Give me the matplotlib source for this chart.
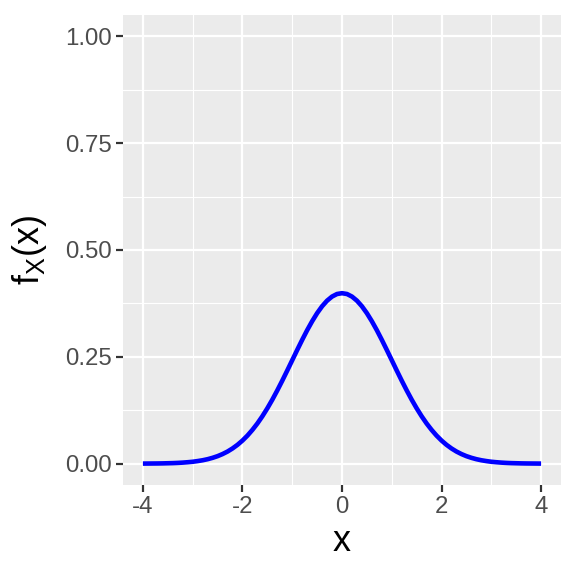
import matplotlib
matplotlib.use("Agg")
import matplotlib.pyplot as plt

plt.rcParams['font.family'] = ['Liberation Sans', 'DejaVu Sans']

# density values, x from -4 to 4
x_vals = [-4.0, -3.9, -3.8, -3.7, -3.6, -3.5, -3.4, -3.3, -3.2, -3.1,
          -3.0, -2.9, -2.8, -2.7, -2.6, -2.5, -2.4, -2.3, -2.2, -2.1,
          -2.0, -1.9, -1.8, -1.7, -1.6, -1.5, -1.4, -1.3, -1.2, -1.1,
          -1.0, -0.9, -0.8, -0.7, -0.6, -0.5, -0.4, -0.3, -0.2, -0.1,
          0.0, 0.1, 0.2, 0.3, 0.4, 0.5, 0.6, 0.7, 0.8, 0.9,
          1.0, 1.1, 1.2, 1.3, 1.4, 1.5, 1.6, 1.7, 1.8, 1.9,
          2.0, 2.1, 2.2, 2.3, 2.4, 2.5, 2.6, 2.7, 2.8, 2.9,
          3.0, 3.1, 3.2, 3.3, 3.4, 3.5, 3.6, 3.7, 3.8, 3.9, 4.0]
fx_vals = [0.0001, 0.0002, 0.0003, 0.0004, 0.0006, 0.0009, 0.0012, 0.0017, 0.0024, 0.0033,
           0.0044, 0.0060, 0.0079, 0.0104, 0.0136, 0.0175, 0.0224, 0.0283, 0.0355, 0.0440,
           0.0540, 0.0656, 0.0790, 0.0940, 0.1109, 0.1295, 0.1497, 0.1714, 0.1942, 0.2179,
           0.2420, 0.2661, 0.2897, 0.3123, 0.3332, 0.3521, 0.3683, 0.3814, 0.3910, 0.3970,
           0.3989, 0.3970, 0.3910, 0.3814, 0.3683, 0.3521, 0.3332, 0.3123, 0.2897, 0.2661,
           0.2420, 0.2179, 0.1942, 0.1714, 0.1497, 0.1295, 0.1109, 0.0940, 0.0790, 0.0656,
           0.0540, 0.0440, 0.0355, 0.0283, 0.0224, 0.0175, 0.0136, 0.0104, 0.0079, 0.0060,
           0.0044, 0.0033, 0.0024, 0.0017, 0.0012, 0.0009, 0.0006, 0.0004, 0.0003, 0.0002, 0.0001]

x_ticks = [-4, -2, 0, 2, 4]
y_ticks = [0.0, 0.25, 0.5, 0.75, 1.0]
y_labels = ["0.00", "0.25", "0.50", "0.75", "1.00"]

fig = plt.figure(figsize=(4, 4), dpi=144)
ax = fig.add_axes([123/576, 1-485/576, (561-123)/576, (485-15)/576])
ax.set_facecolor('#EBEBEB')

ax.plot(x_vals, fx_vals, color='blue', lw=2.3, solid_capstyle='butt', zorder=3)

ax.set_xlim(-4.4, 4.4)
ax.set_ylim(-0.05, 1.05)
ax.set_xticks(x_ticks)
ax.set_xticklabels([str(t) for t in x_ticks])
ax.set_yticks(y_ticks)
ax.set_yticklabels(y_labels)
ax.set_xticks([-3, -1, 1, 3], minor=True)
ax.set_yticks([0.125, 0.375, 0.625, 0.875], minor=True)

ax.grid(True, which='major', color='white', lw=1.1)
ax.grid(True, which='minor', color='white', lw=0.55)
ax.set_axisbelow(True)
for s in ax.spines.values():
    s.set_visible(False)

ax.tick_params(which='major', length=3.5, width=1.1, color='#333333',
               labelcolor='#4D4D4D', labelsize=12, pad=2)
ax.tick_params(which='minor', length=0)

ax.set_xlabel('x', fontsize=18, labelpad=3)
ax.set_ylabel(r'$\mathregular{f_X(x)}$', fontsize=18, labelpad=8)

fig.savefig('out.png', dpi=144)
